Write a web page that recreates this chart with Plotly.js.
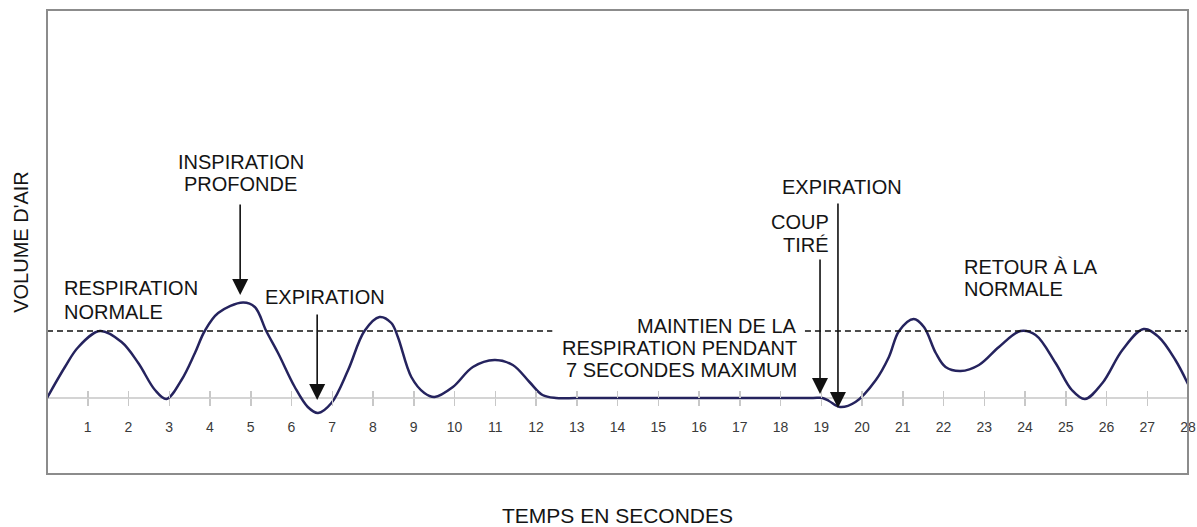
<!DOCTYPE html>
<html>
<head>
<meta charset="utf-8">
<script src="https://cdn.plot.ly/plotly-3.0.1.min.js"></script>
<style>html,body{margin:0;padding:0;background:#fff;}#chart{width:1197px;height:527px;}</style>
</head>
<body>
<div id="chart"></div>
<script>
// Time in seconds and relative air volume (baseline = 0)
const time = [0, 0.44, 0.77, 1.3, 1.83, 2.24, 2.65, 2.93, 3.30, 3.63, 3.87, 4.20, 4.81, 5.10, 5.38, 5.67, 6.08, 6.40, 6.65, 6.98, 7.39, 7.79, 8.16, 8.45, 8.61, 8.94, 9.26, 9.51, 9.96, 10.45, 10.98, 11.43, 11.84, 12.16, 12.49, 13, 14, 15, 16, 17, 18, 18.8, 19.03, 19.19, 19.46, 19.84, 20.34, 20.66, 20.91, 21.27, 21.52, 21.81, 22.05, 22.42, 22.87, 23.36, 23.89, 24.26, 24.75, 25.15, 25.47, 25.9, 26.39, 26.91, 27.28, 27.69, 28];
const volume = [0, 3.1, 5.1, 6.7, 5.6, 3.5, 0.8, -0.1, 1.8, 4.5, 6.7, 8.5, 9.55, 9.1, 6.7, 4.5, 1.1, -0.9, -1.5, -0.5, 2.8, 6.7, 8.1, 7.5, 6.1, 2.1, 0.5, 0.1, 1.1, 3.1, 3.8, 3.3, 1.6, 0.3, 0, 0, 0, 0, 0, 0, 0, 0, 0, -0.3, -0.9, -0.4, 1.8, 4.1, 6.7, 7.9, 7.1, 4.5, 3.1, 2.7, 3.3, 5.1, 6.7, 6.3, 3.5, 0.8, -0.1, 1.5, 4.8, 6.9, 6.1, 3.8, 1.4];
// Normal breathing level (dashed reference), interrupted during the breath hold
const normalLevel = 6.7;
const dashedTime = [0, 12.4, null, 18.6, 28];
const tickValues = [1,2,3,4,5,6,7,8,9,10,11,12,13,14,15,16,17,18,19,20,21,22,23,24,25,26,27,28];
const tickLabels = tickValues.map(String);

const yMin = -7.6, yMax = 38.8;
const axisPos = (0 - yMin) / (yMax - yMin);
const FONT = 'Liberation Sans, Arial, sans-serif';

const traces = [
  {x: time, y: volume, type: 'scatter', mode: 'lines', xaxis: 'x', yaxis: 'y',
   line: {color: '#25235e', width: 2.5, shape: 'spline', smoothing: 1}, hoverinfo: 'skip', showlegend: false},
  {x: dashedTime, y: dashedTime.map(v => v === null ? null : normalLevel), type: 'scatter', mode: 'lines',
   xaxis: 'x2', yaxis: 'y', connectgaps: false,
   line: {color: '#111', width: 1.4, dash: '6px,4px'}, hoverinfo: 'skip', showlegend: false},
  {x: [null], y: [null], type: 'scatter', mode: 'lines', xaxis: 'x3', yaxis: 'y', hoverinfo: 'skip', showlegend: false}
];

const textFont = {family: FONT, size: 20, color: '#141414'};
function label(text, x, y, xanchor) {
  return {text: text, x: x, y: y, xref: 'x', yref: 'y', showarrow: false,
          xanchor: xanchor || 'center', yanchor: 'middle', font: textFont};
}
function arrow(x, yTip, yTail) {
  return {text: '', x: x, y: yTip, ax: x, ay: yTail, xref: 'x', yref: 'y', axref: 'x', ayref: 'y',
          showarrow: true, arrowhead: 2, arrowsize: 2, arrowwidth: 1.6, arrowcolor: '#111'};
}

const layout = {
  width: 1197, height: 527,
  margin: {l: 47, r: 9, t: 10, b: 53},
  paper_bgcolor: '#fff', plot_bgcolor: '#fff',
  font: {family: FONT, color: '#222'},
  xaxis: {range: [0, 28], domain: [0, 1], anchor: 'y', showticklabels: false, ticks: '', showgrid: false,
          zeroline: false, showline: false, automargin: false,
          title: {text: 'TEMPS EN SECONDES', font: {family: FONT, size: 21, color: '#141414'}, standoff: 34}},
  xaxis2: {range: [0, 28], overlaying: 'x', anchor: 'free', position: axisPos, side: 'bottom',
           tickmode: 'array', tickvals: tickValues, ticktext: tickLabels,
           ticks: 'outside', ticklen: 7, tickwidth: 1.5, tickcolor: '#c8c8c8', ticklabelstandoff: 9,
           ticklabeloverflow: 'allow',
           tickfont: {family: FONT, size: 14, color: '#3a3a3a'},
           showgrid: false, zeroline: false, showline: false, automargin: false},
  xaxis3: {range: [0, 28], overlaying: 'x', anchor: 'free', position: axisPos, side: 'bottom',
           tickmode: 'array', tickvals: tickValues, showticklabels: false,
           ticks: 'inside', ticklen: 7, tickwidth: 1.5, tickcolor: '#c8c8c8',
           showgrid: false, zeroline: false, showline: false, automargin: false},
  yaxis: {range: [yMin, yMax], showticklabels: false, ticks: '', showgrid: false, showline: false,
          zeroline: true, zerolinecolor: '#d4d4d4', zerolinewidth: 2, automargin: false,
          title: {text: "VOLUME D'AIR", font: {family: FONT, size: 20, color: '#141414'}, standoff: 12}},
  shapes: [
    {type: 'rect', xref: 'paper', yref: 'paper', x0: 0, x1: 1, y0: 0, y1: 1,
     line: {color: '#8c8c8c', width: 2}, layer: 'above'}
  ],
  annotations: [
    label('INSPIRATION', 4.75, 23.6),
    label('PROFONDE', 4.75, 21.4),
    label('RESPIRATION', 0.37, 11.0, 'left'),
    label('NORMALE', 0.37, 8.6, 'left'),
    label('EXPIRATION', 6.83, 10.1),
    label('EXPIRATION', 21.03, 21.1, 'right'),
    label('COUP', 19.24, 17.6, 'right'),
    label('TIRÉ', 19.24, 15.3, 'right'),
    label('MAINTIEN DE LA', 18.46, 7.2, 'right'),
    label('RESPIRATION PENDANT', 18.46, 5.0, 'right'),
    label('7 SECONDES MAXIMUM', 18.46, 2.8, 'right'),
    label('RETOUR À LA', 22.45, 13.1, 'left'),
    label('NORMALE', 22.45, 10.9, 'left'),
    arrow(4.74, 10.3, 19.5),
    arrow(6.63, -0.2, 8.5),
    arrow(18.97, 0.4, 14.0),
    arrow(19.41, -1.0, 19.6)
  ]
};

Plotly.newPlot('chart', traces, layout, {displayModeBar: false, staticPlot: true});
</script>
</body>
</html>
